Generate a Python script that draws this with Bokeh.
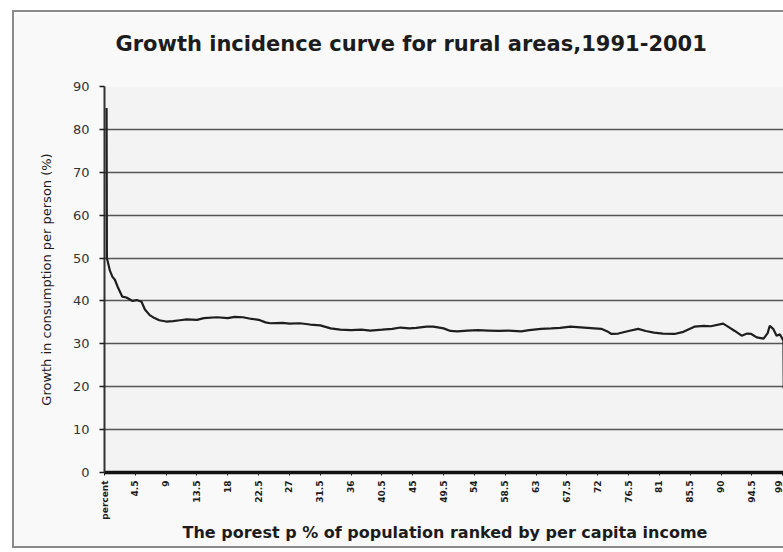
import math
from bokeh.plotting import figure
from bokeh.models import Range1d, FixedTicker, Title
from bokeh.embed import file_html
from bokeh.resources import INLINE

# ---- data ----
pct = [0.3, 0.35, 0.8, 1.2, 1.5, 2.0, 2.6, 3.2, 4.1, 4.7, 5.4, 5.9, 6.6, 7.3, 8.0,
       9.0, 10.0, 11.0, 12.0, 13.5, 14.5, 16.4, 18.0, 19.0, 20.2, 21.5, 22.5, 23.5,
       24.2, 26.0, 27.0, 28.5, 30.0, 31.5, 33.0, 34.4, 36.0, 37.5, 38.8, 40.5, 42.0,
       43.2, 44.5, 45.5, 47.0, 48.0, 49.5, 50.5, 51.5, 53.0, 54.5, 56.0, 57.5, 59.0,
       60.8, 62.0, 63.7, 65.2, 66.5, 68.0, 70.0, 72.5, 73.5, 74.0, 75.0, 76.5, 77.9,
       79.0, 80.2, 81.5, 83.2, 84.5, 86.1, 87.5, 88.5, 90.3, 91.0, 92.0, 93.0, 93.8,
       94.4, 95.2, 96.2, 96.8, 97.1, 97.6, 98.1, 98.6, 99.1, 99.15]
growth = [85.0, 50.0, 47.0, 45.5, 45.0, 43.0, 41.0, 40.8, 40.0, 40.2, 39.8, 38.0, 36.7,
          36.0, 35.5, 35.2, 35.3, 35.5, 35.7, 35.6, 36.0, 36.2, 36.0, 36.3, 36.2, 35.8,
          35.6, 35.0, 34.8, 34.9, 34.7, 34.8, 34.5, 34.3, 33.6, 33.3, 33.2, 33.3, 33.1,
          33.3, 33.5, 33.8, 33.6, 33.7, 34.0, 34.0, 33.6, 33.0, 32.9, 33.1, 33.2, 33.1,
          33.0, 33.1, 32.9, 33.2, 33.5, 33.6, 33.7, 34.0, 33.8, 33.5, 32.8, 32.3, 32.4,
          33.0, 33.5, 33.0, 32.6, 32.4, 32.3, 32.8, 34.0, 34.2, 34.1, 34.7, 34.0, 33.0,
          31.9, 32.4, 32.3, 31.5, 31.2, 32.5, 34.2, 33.5, 31.9, 32.2, 30.7, 19.5]

x_ticks = [0.0, 4.5, 9.0, 13.5, 18.0, 22.5, 27.0, 31.5, 36.0, 40.5, 45.0, 49.5, 54.0,
           58.5, 63.0, 67.5, 72.0, 76.5, 81.0, 85.5, 90.0, 94.5, 99.0]
x_tick_labels = ["percent", "4.5", "9", "13.5", "18", "22.5", "27", "31.5", "36", "40.5",
                 "45", "49.5", "54", "58.5", "63", "67.5", "72", "76.5", "81", "85.5",
                 "90", "94.5", "99"]
y_ticks = [0, 10, 20, 30, 40, 50, 60, 70, 80, 90]

title_text = "Growth incidence curve for rural areas,1991-2001"
x_title = "The porest p % of population ranked by per capita income"
y_title = "Growth in consumption per person (%)"

FONT = "DejaVu Sans"
INK = "#1c1c1c"

p = figure(width=771, height=538, output_backend="svg", toolbar_location=None,
           x_range=Range1d(0, 99.4), y_range=Range1d(0, 90),
           min_border_left=90, min_border_right=0, min_border_top=74,
           min_border_bottom=78)

p.margin = (10, 0, 0, 12)
p.styles = {"border-left": "2px solid #8a8a8a", "border-top": "2px solid #8a8a8a",
            "border-bottom": "2px solid #8a8a8a", "box-sizing": "border-box"}

p.background_fill_color = "#f3f3f3"
p.border_fill_color = "#f9f9f9"
p.outline_line_color = None

# spacer between chart title and plot area, then the chart title itself
spacer = Title(text=" ", text_font=FONT, text_font_size="10px", standoff=18)
p.add_layout(spacer, "above")
main_title = Title(text=title_text, text_font=FONT, text_font_size="21px",
                   text_font_style="bold", text_color=INK, align="left",
                   offset=11, standoff=0)
p.add_layout(main_title, "above")

p.line(pct, growth, line_color="#1e1e1e", line_width=2.2)

# x axis
xa = p.xaxis[0]
xa.ticker = FixedTicker(ticks=x_ticks)
xa.major_label_overrides = {t: s for t, s in zip(x_ticks, x_tick_labels)}
xa.major_label_orientation = math.pi / 2
xa.major_label_text_font = FONT
xa.major_label_text_font_size = "9px"
xa.major_label_text_font_style = "bold"
xa.major_label_text_color = INK
xa.major_label_standoff = 5
xa.major_tick_in = 0
xa.major_tick_out = 3
xa.major_tick_line_color = INK
xa.minor_tick_line_color = None
xa.axis_line_color = "#111111"
xa.axis_line_width = 3.5
xa.axis_label = x_title
xa.axis_label_text_font = FONT
xa.axis_label_text_font_size = "16px"
xa.axis_label_text_font_style = "bold"
xa.axis_label_text_color = INK
xa.axis_label_standoff = 0

# y axis
ya = p.yaxis[0]
ya.ticker = FixedTicker(ticks=y_ticks)
ya.major_label_text_font = FONT
ya.major_label_text_font_size = "13px"
ya.major_label_text_color = "#333333"
ya.major_label_standoff = 10
ya.major_tick_in = 0
ya.major_tick_out = 5
ya.major_tick_line_color = INK
ya.major_tick_line_width = 1.5
ya.minor_tick_line_color = None
ya.axis_line_color = "#333333"
ya.axis_line_width = 2
ya.axis_label = y_title
ya.axis_label_text_font = FONT
ya.axis_label_text_font_size = "13px"
ya.axis_label_text_font_style = "normal"
ya.axis_label_text_color = INK
ya.axis_label_standoff = 16

p.xgrid.grid_line_color = None
p.ygrid.ticker = FixedTicker(ticks=y_ticks)
p.ygrid.grid_line_color = "#555555"
p.ygrid.grid_line_width = 1.5

open("out.html", "w").write(file_html(p, INLINE))
